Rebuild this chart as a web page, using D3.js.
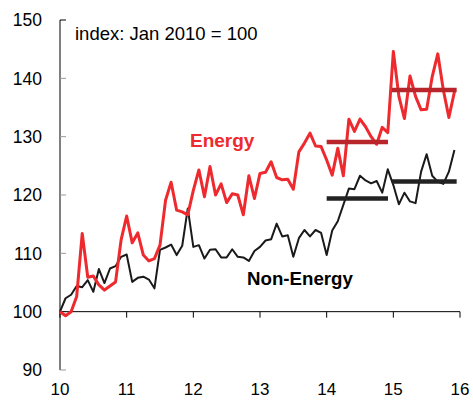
<!DOCTYPE html>
<html><head><meta charset="utf-8">
<script src="https://cdn.jsdelivr.net/npm/d3@7"></script>
<style>body{margin:0;background:#fff}svg{display:block;font-family:Arial,"Liberation Sans",sans-serif}</style>
</head><body><svg id="c" width="473" height="400"></svg>
<script>
const energy = [100,99.3,100,102.6,113.4,105.9,106.1,104.6,103.7,104.4,105.1,112.3,
  116.4,111.8,113.5,109.7,108.7,109.1,111.4,119.1,122.2,117.4,117.1,116.6,
  120.8,124.3,119.7,124.9,120,121.9,118.7,120.2,120,116.6,123.3,119.4,
  123.7,123.9,125.7,123,122.6,122.7,121,127.4,128.9,130.6,128.4,128.3,
  126,123.4,128,123.3,133,130.9,133,131.7,130,128.7,131.6,130.7,
  144.6,136.9,133.1,140.4,136.9,134.6,134.7,140.3,144.2,138,133.3,137.7];
const nonEnergy = [100,102.3,102.9,104.4,104.2,105.4,103.4,107.3,104.9,107.4,107.8,109.4,
  109.8,105.1,105.8,106,105.5,104,110.6,111,111.5,109.7,111.3,117.7,
  111.1,111.4,109.1,110.6,110.7,109.3,109.3,110.7,109.4,109.3,108.7,110.4,
  111.1,112.2,112.4,115.1,112.9,113.1,109.4,112.6,114,112.9,114,113.5,
  109.7,113.9,115.5,118.3,121.1,121,123.3,122.5,122,122.4,120.4,124.4,
  121.7,118.4,120.4,118.9,118.6,124,127,123.3,122.3,121.9,124,127.7];
const energyAvg = [{from:2014,to:2014.92,v:129.1},{from:2014.98,to:2015.95,v:138.0}];
const nonEnergyAvg = [{from:2014,to:2014.92,v:119.4},{from:2014.98,to:2015.95,v:122.3}];
const yTicks = [90,100,110,120,130,140,150];
const xTicks = [2010,2011,2012,2013,2014,2015,2016];
const xTickLabels = ["10","11","12","13","14","15","16"];

const svg = d3.select("#c");
const x = d3.scaleLinear().domain([2010,2016]).range([60,460]);
const y = d3.scaleLinear().domain([90,150]).range([370,20]);
const t = i => 2010 + i/12;

// y axis
const ya = svg.append("g").attr("transform","translate(60,0)");
ya.append("line").attr("x1",0).attr("x2",0).attr("y1",y(150)).attr("y2",y(90)).attr("stroke","#000").attr("stroke-width",1);
ya.selectAll("line.tk").data(yTicks).enter().append("line").attr("class","tk")
  .attr("x1",0).attr("x2",6).attr("y1",d=>y(d)).attr("y2",d=>y(d))
  .attr("stroke",d=>d===150?"#000":"#999").attr("stroke-width",1);
ya.selectAll("text").data(yTicks).enter().append("text")
  .attr("x",-18).attr("y",d=>y(d)).attr("dy","0.36em").attr("text-anchor","end")
  .attr("font-size",17.5).attr("fill","#000").text(d=>d);

// x axis at 100
const xa = svg.append("g");
xa.append("line").attr("x1",x(2010)).attr("x2",x(2016)).attr("y1",y(100)).attr("y2",y(100)).attr("stroke","#000").attr("stroke-width",1);
xa.selectAll("line.tk").data(xTicks).enter().append("line").attr("class","tk")
  .attr("x1",d=>x(d)).attr("x2",d=>x(d)).attr("y1",y(100)).attr("y2",y(100)+6)
  .attr("stroke","#000").attr("stroke-width",1);
xa.selectAll("text").data(xTicks).enter().append("text")
  .attr("x",d=>x(d)).attr("y",395).attr("text-anchor","middle")
  .attr("font-size",17).attr("fill","#000").text((d,i)=>xTickLabels[i]);

const line = d3.line().x((d,i)=>x(t(i))).y(d=>y(d));
svg.append("path").datum(nonEnergy).attr("d",line).attr("fill","none").attr("stroke","#1a1a1a").attr("stroke-width",2).attr("stroke-linejoin","round");
svg.append("path").datum(energy).attr("d",line).attr("fill","none").attr("stroke","#ee2a2e").attr("stroke-width",3).attr("stroke-linejoin","round");

svg.selectAll("line.ea").data(energyAvg).enter().append("line").attr("class","ea")
  .attr("x1",d=>x(d.from)).attr("x2",d=>x(d.to)).attr("y1",d=>y(d.v)).attr("y2",d=>y(d.v))
  .attr("stroke","#b8262c").attr("stroke-width",4.5);
svg.selectAll("line.na").data(nonEnergyAvg).enter().append("line").attr("class","na")
  .attr("x1",d=>x(d.from)).attr("x2",d=>x(d.to)).attr("y1",d=>y(d.v)).attr("y2",d=>y(d.v))
  .attr("stroke","#222").attr("stroke-width",4.5);

svg.append("text").attr("x",75).attr("y",40).attr("font-size",18.5).attr("fill","#000").text("index: Jan 2010 = 100");
svg.append("text").attr("x",190).attr("y",147).attr("font-size",19).attr("font-weight","bold").attr("fill","#ee2a2e").text("Energy");
svg.append("text").attr("x",247).attr("y",285).attr("font-size",18.7).attr("font-weight","bold").attr("fill","#000").text("Non-Energy");
</script></body></html>
